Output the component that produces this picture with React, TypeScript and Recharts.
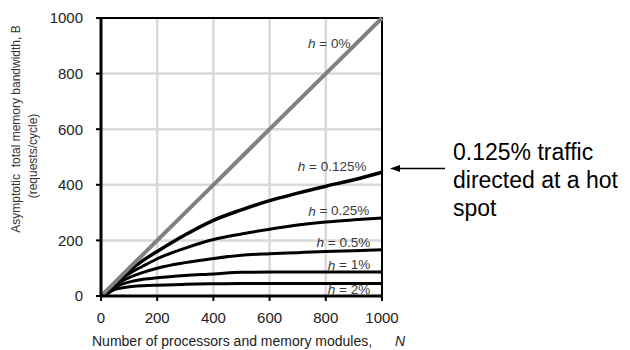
import React from 'react';
import { LineChart, Line, XAxis, YAxis, CartesianGrid, ReferenceArea, ReferenceDot, Label } from 'recharts';

// number of processors / memory modules
const N = [0, 15, 50, 100, 150, 200, 300, 400, 500, 600, 700, 800, 900, 1000];

// bandwidth B (requests/cycle) for each hot-spot fraction h
const H_0 = [0, 15, 50, 100, 150, 200, 300, 400, 500, 600, 700, 800, 900, 1000];
const H_0125 = [null, 2, 46, 90, 128, 160, 220, 272, 310, 343, 370, 395, 418, 445];
const H_025 = [null, 2, 43, 80, 108, 134, 172, 203, 223, 240, 255, 266, 274, 281];
const H_05 = [null, 2, 38, 66, 85, 100, 120, 135, 147, 152, 156, 160, 163, 166];
const H_1 = [null, 2, 32, 50, 60, 66, 74, 79, 85, 86, 86, 86, 86, 86];
const H_2 = [null, 2, 24, 33, 37, 39, 42, 44, 45, 45, 45, 45, 45, 45];

const TICKS = [0, 200, 400, 600, 800, 1000];

// where the "h = ..." labels sit (right end of text, vertical centre), in data units
const CURVE_LABELS = [
  { x: 888, y: 909, text: '0%' },
  { x: 945, y: 466, text: '0.125%' },
  { x: 955, y: 307, text: '0.25%' },
  { x: 958, y: 193, text: '0.5%' },
  { x: 958, y: 112, text: '1%' },
  { x: 958, y: 24, text: '2%' },
];

const data = N.map((n, i) => ({
  n,
  h0: H_0[i],
  h0125: H_0125[i],
  h025: H_025[i],
  h05: H_05[i],
  h1: H_1[i],
  h2: H_2[i],
}));

const FONT = '"Liberation Sans", Arial, sans-serif';

const curveLabel = (text: string) => (props: any) => {
  const vb = props.viewBox || {};
  const x = vb.x + (vb.width || 0) / 2;
  const y = vb.y + (vb.height || 0) / 2;
  return (
    <text x={x} y={y} textAnchor="end" dominantBaseline="central" fontSize={13.5} fill="#3a3a3a" fontFamily={FONT}>
      <tspan fontStyle="italic">h</tspan> = {text}
    </text>
  );
};

const YTitle = () => (
  <g fontFamily={FONT} fontSize={12} fill="#333">
    <text transform="translate(16,129) rotate(-90)" textAnchor="middle" dominantBaseline="central" xmlSpace="preserve">
      Asymptotic  total memory bandwidth, B
    </text>
    <text transform="translate(33,156) rotate(-90)" textAnchor="middle" dominantBaseline="central">
      (requests/cycle)
    </text>
  </g>
);

const XTitle = () => (
  <g fontFamily={FONT} fontSize={14} fill="#222">
    <text x={92} y={346}>Number of processors and memory modules,</text>
    <text x={395} y={346} fontStyle="italic">N</text>
  </g>
);

export default function App() {
  return (
    <div style={{ position: 'absolute', left: 0, top: 0, width: 630, height: 350, background: '#fff' }}>
      <LineChart width={630} height={350} data={data} margin={{ top: 18, right: 248, left: 0, bottom: 0 }}>
        <CartesianGrid stroke="#d9d9d9" strokeWidth={2.5} horizontalValues={[200, 400, 600, 800]} verticalValues={[200, 400, 600, 800]} />
        <XAxis
          dataKey="n"
          type="number"
          domain={[0, 1000]}
          ticks={TICKS}
          height={54}
          tickSize={5}
          tickMargin={11}
          axisLine={{ stroke: '#000', strokeWidth: 3 }}
          tickLine={{ stroke: '#000', strokeWidth: 2 }}
          tick={{ fill: '#222', fontSize: 15, fontFamily: FONT }}
        >
          <Label content={XTitle} />
        </XAxis>
        <YAxis
          type="number"
          domain={[0, 1000]}
          ticks={TICKS}
          width={101}
          tickSize={5}
          tickMargin={13}
          axisLine={{ stroke: '#000', strokeWidth: 3 }}
          tickLine={{ stroke: '#000', strokeWidth: 2 }}
          tick={{ fill: '#222', fontSize: 15, fontFamily: FONT }}
        >
          <Label content={YTitle} />
        </YAxis>
        <ReferenceArea x1={0} x2={1000} y1={0} y2={1000} fill="none" stroke="#000" strokeWidth={2} />
        <Line dataKey="h2" type="monotone" stroke="#000" strokeWidth={3} dot={false} isAnimationActive={false} connectNulls />
        <Line dataKey="h1" type="monotone" stroke="#000" strokeWidth={3} dot={false} isAnimationActive={false} connectNulls />
        <Line dataKey="h05" type="monotone" stroke="#000" strokeWidth={3} dot={false} isAnimationActive={false} connectNulls />
        <Line dataKey="h025" type="monotone" stroke="#000" strokeWidth={3} dot={false} isAnimationActive={false} connectNulls />
        <Line dataKey="h0125" type="monotone" stroke="#000" strokeWidth={3.5} dot={false} isAnimationActive={false} connectNulls />
        <Line dataKey="h0" type="linear" stroke="#808080" strokeWidth={4} dot={false} isAnimationActive={false} />
        {CURVE_LABELS.map((l) => (
          <ReferenceDot key={l.text} x={l.x} y={l.y} r={0} fill="none" stroke="none" label={curveLabel(l.text)} />
        ))}
      </LineChart>
      <svg width={630} height={350} style={{ position: 'absolute', left: 0, top: 0, pointerEvents: 'none' }}>
        <line x1={398} y1={168.5} x2={445} y2={168.5} stroke="#000" strokeWidth={1.5} />
        <polygon points="390,168.5 400,165 400,172" fill="#000" />
      </svg>
      <div
        style={{
          position: 'absolute',
          left: 453,
          top: 138,
          fontFamily: FONT,
          fontSize: 23,
          lineHeight: '28px',
          color: '#000',
        }}
      >
        0.125% traffic
        <br />
        directed at a hot
        <br />
        spot
      </div>
    </div>
  );
}
